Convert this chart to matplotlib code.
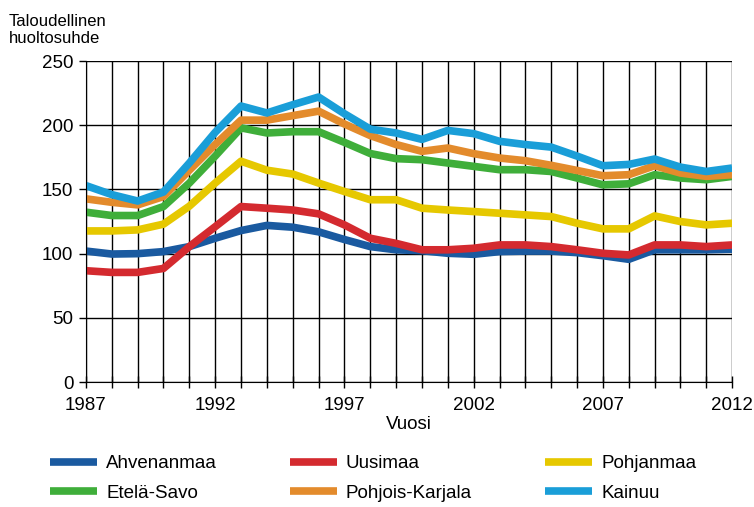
import matplotlib.pyplot as plt
import numpy as np

years = np.arange(1987, 2013)

ahvenanmaa = [102, 99.7, 100, 101.6, 105.5, 112, 118, 122, 120.6, 117, 111, 105.5, 103,
              102.3, 100.3, 99.5, 101.6, 102, 102, 100.8, 98.4, 95.6, 103, 103, 103, 103.5]
uusimaa = [86.7, 85.4, 85.4, 88.5, 105.5, 121, 136.7, 135.4, 134, 131, 122.4, 112, 108,
           103, 103, 104.2, 106.8, 106.8, 105.5, 103, 100.3, 99, 106.8, 106.8, 105.5, 106.8]
pohjanmaa = [117.7, 117.7, 118.5, 123, 137, 155, 172, 165, 162, 155, 148.4, 142, 142,
             135.4, 134, 132.8, 131.5, 130.2, 128.9, 123.7, 119.3, 119.3, 129.4, 125, 122.4, 123.7]
etela_savo = [132.3, 129.7, 129.7, 136.7, 155, 176, 198, 194, 195, 195, 186.7, 178, 174,
              173.2, 170.6, 168, 165.4, 165.4, 164, 158.9, 153.6, 154.4, 161.5, 158.9, 157.6, 160.2]
pohjois_karjala = [142.7, 140, 138, 144.5, 165, 185, 204, 204, 207.5, 211, 201, 192, 185,
                   179.7, 182.3, 177.9, 174.5, 172.4, 168.8, 164.8, 160.7, 161.5, 168.5, 162.8, 160.2, 161.5]
kainuu = [153, 146, 141, 148, 170.6, 194.5, 215, 209.6, 216, 222, 209, 197, 194,
          189, 196, 193.5, 187.5, 185, 183, 176, 168.5, 169.5, 173.7, 167.4, 164, 166.7]

series = [
    ("Ahvenanmaa", ahvenanmaa, "#1a5aa0"),
    ("Uusimaa", uusimaa, "#d42a2f"),
    ("Pohjanmaa", pohjanmaa, "#e6c800"),
    ("Etelä-Savo", etela_savo, "#3fae3a"),
    ("Pohjois-Karjala", pohjois_karjala, "#e38b2c"),
    ("Kainuu", kainuu, "#1a9ed8"),
]

plt.rcParams['font.family'] = ['Liberation Sans', 'DejaVu Sans']

fig = plt.figure(figsize=(7.54, 5.07), dpi=100)
ax = fig.add_axes([0.114, 0.2465, 0.857, 0.633])

lines = {}
for name, vals, col in series:
    ln, = ax.plot(years, vals, color=col, lw=5.5, solid_capstyle='butt', label=name)
    lines[name] = ln

ax.set_xlim(1987, 2012)
ax.set_ylim(0, 250)
ax.set_yticks(np.arange(0, 251, 50))
ax.set_xticks(np.arange(1987, 2013, 5))
ax.set_xticks(years, minor=True)
ax.grid(True, which='both', axis='x', color='black', lw=1)
ax.grid(True, which='major', axis='y', color='black', lw=1)
ax.set_axisbelow(True)
for s in ['top', 'right']:
    ax.spines[s].set_visible(False)
ax.tick_params(axis='x', which='both', direction='inout', length=8, width=1, labelsize=13.5, pad=7)
ax.tick_params(axis='y', direction='out', length=5, width=1, labelsize=13.5, pad=4)

ax.set_xlabel("Vuosi", fontsize=13.5, labelpad=1)
fig.text(0.012, 0.91, "Taloudellinen\nhuoltosuhde", fontsize=12, ha='left', va='bottom',
         linespacing=1.15)

order = ["Ahvenanmaa", "Etelä-Savo", "Uusimaa", "Pohjois-Karjala", "Pohjanmaa", "Kainuu"]
fig.legend([lines[n] for n in order], order, ncol=3, loc='upper left',
           bbox_to_anchor=(0.066, 0.102), frameon=False,
           fontsize=13.5, handlelength=2.5, handletextpad=0.5, labelspacing=0.66,
           columnspacing=3.88, borderaxespad=0, borderpad=0)

fig.savefig("out.png", dpi=100)
